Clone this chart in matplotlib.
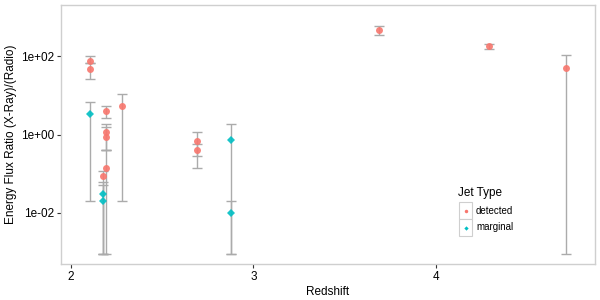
import matplotlib
matplotlib.use("Agg")
import matplotlib.pyplot as plt
from matplotlib.patches import Rectangle
from matplotlib.ticker import FixedLocator, NullLocator

plt.rcParams['font.family'] = ['Liberation Sans', 'DejaVu Sans']

# detected jets
det_z    = [2.106, 2.106, 2.19, 2.19, 2.19, 2.19, 2.174, 2.28, 2.689, 2.689, 3.686, 4.294, 4.714]
det_r    = [74,    46,    4.0,  1.16, 0.85, 0.14, 0.089, 5.4,  0.695, 0.41,  452,   183,   49]
det_lo   = [65,    25.6,  2.6,  0.4,  0.4,  0.0009, 0.0009, 0.02, 0.28, 0.139, 338,   154,   0.0009]
det_hi   = [100,   65,    5.4,  1.8,  1.55, 0.4,  0.12,  10.5, 1.16,  0.56,  580,   206,   104]

# marginal jets
mar_z    = [2.106, 2.174, 2.174, 2.878, 2.878]
mar_r    = [3.3,   0.030, 0.020, 0.71,  0.0098]
mar_lo   = [0.02,  0.0009, 0.0009, 0.0009, 0.0009]
mar_hi   = [6.9,   0.063, 0.051, 1.85,  0.02]

RED = '#F8766D'
CYAN = '#00BFC4'
ERR = '#ABABAB'

fig = plt.figure(figsize=(6, 3), dpi=100)
ax = fig.add_axes([61/600, 1-264/300, 534/600, 259/300])

def draw_err(z, r, lo, hi):
    yerr = [[v - l for v, l in zip(r, lo)], [h - v for v, h in zip(r, hi)]]
    ax.errorbar(z, r, yerr=yerr, fmt='none', ecolor=ERR, elinewidth=1.0,
                capsize=3.8, capthick=1.0, zorder=2)

draw_err(det_z, det_r, det_lo, det_hi)
draw_err(mar_z, mar_r, mar_lo, mar_hi)
ax.plot(det_z, det_r, 'o', color=RED, markersize=5, markeredgewidth=0, alpha=0.9, zorder=3)
ax.plot(mar_z, mar_r, 'D', color=CYAN, markersize=4.3, markeredgewidth=0, alpha=0.9, zorder=3)

ax.set_yscale('log')
ax.set_ylim(10**-3.30, 10**3.30)
ax.set_xlim(1.945, 4.873)
ax.yaxis.set_major_locator(FixedLocator([1e-2, 1e0, 1e2]))
ax.yaxis.set_minor_locator(NullLocator())
ax.set_yticklabels(['1e-02', '1e+00', '1e+02'])
ax.set_xticks([2, 3, 4])
ax.set_xticklabels(['2', '3', '4'])

for s in ax.spines.values():
    s.set_color('#CFCFCF')
    s.set_linewidth(1.0)
ax.tick_params(axis='both', which='major', length=3, width=0.8, color='#333333',
               labelsize=8.5, labelcolor='black', pad=2)

ax.set_xlabel('Redshift', fontsize=8.5, labelpad=2)
ax.set_ylabel('Energy Flux Ratio (X-Ray)/(Radio)', fontsize=8.5, labelpad=2)
ax.yaxis.set_label_coords(-0.082, 0.5)

# legend drawn manually in figure pixel coordinates
def fx(px): return px / 600
def fy(py): return 1 - py / 300
fig.text(fx(458), fy(193), 'Jet Type', fontsize=8.5, va='center', ha='left')
for i, (lab, col, mk) in enumerate([('detected', RED, 'o'), ('marginal', CYAN, 'D')]):
    top = 202 + i * 17
    fig.patches.append(Rectangle((fx(459), fy(top + 17)), 13/600, 17/300,
                                 transform=fig.transFigure, facecolor='white',
                                 edgecolor='#CFCFCF', linewidth=0.8))
    fig.lines.append(plt.Line2D([fx(465.5)], [fy(top + 8.5)], marker=mk, color=col,
                                markersize=2.5 if mk == 'o' else 2.2,
                                markeredgewidth=0, transform=fig.transFigure))
    fig.text(fx(476), fy(top + 8.5), lab, fontsize=7, va='center', ha='left')

fig.savefig('out.png', dpi=100)
